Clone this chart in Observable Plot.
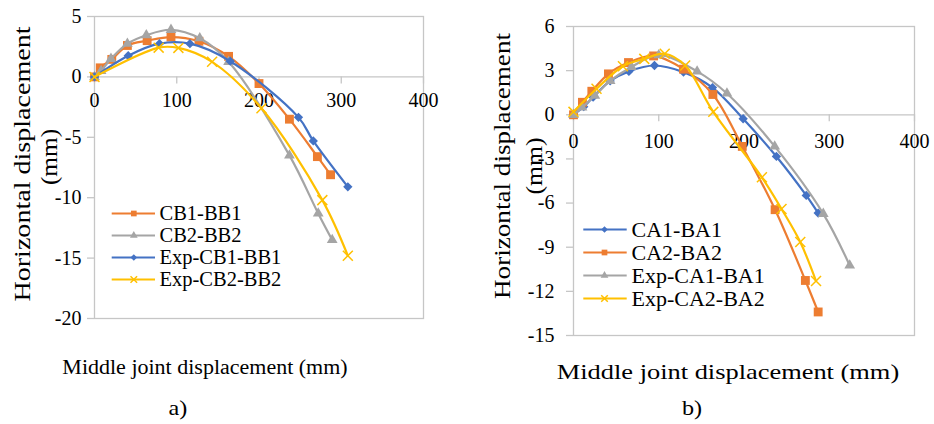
<!DOCTYPE html>
<html><head><meta charset="utf-8">
<script src="https://cdn.jsdelivr.net/npm/d3@7"></script>
<script src="https://cdn.jsdelivr.net/npm/@observablehq/plot@0.6"></script>
<style>
html,body{margin:0;padding:0;background:#fff;}
#root{position:relative;width:934px;height:424px;overflow:hidden;font-family:"Liberation Serif","Times New Roman",serif;color:#000;background:#fff;}
#root svg{position:absolute;overflow:visible;}
.lbl{position:absolute;white-space:nowrap;line-height:1;font-family:"Liberation Serif","Times New Roman",serif;}
</style></head><body><div id="root"></div>
<script>
// ---------- Chart a) ----------
const aXTicks = [0, 100, 200, 300, 400];
const aYTicks = [5, 0, -5, -10, -15, -20];
const aNames = ["CB1-BB1", "CB2-BB2", "Exp-CB1-BB1", "Exp-CB2-BB2"];
const a_CB1_x = [0, 7, 21, 40, 64, 93, 127, 163, 200, 237, 271, 287];
const a_CB1_y = [0, 0.75, 1.45, 2.6, 3.0, 3.3, 2.95, 1.7, -0.55, -3.5, -6.6, -8.1];
const a_CB2_x = [0, 8, 20, 40, 63, 93, 128, 163, 237, 272, 289];
const a_CB2_y = [0, 0.5, 1.5, 2.75, 3.45, 3.9, 3.2, 1.25, -6.5, -11.3, -13.5];
const a_ExpCB1_x = [0, 41, 79, 116, 165, 248, 266, 308];
const a_ExpCB1_y = [0, 1.75, 2.75, 2.75, 1.3, -3.35, -5.3, -9.1];
const a_ExpCB2_x = [0, 78, 102, 143, 203, 277, 308];
const a_ExpCB2_y = [0, 2.42, 2.4, 1.25, -2.6, -10.2, -14.8];

// ---------- Chart b) ----------
const bXTicks = [0, 100, 200, 300, 400];
const bYTicks = [6, 3, 0, -3, -6, -9, -12, -15];
const bNames = ["CA1-BA1", "CA2-BA2", "Exp-CA1-BA1", "Exp-CA2-BA2"];
const b_CA1_x = [0, 12, 23, 43, 65, 95, 129, 163, 199, 238, 273, 287];
const b_CA1_y = [0, 0.55, 1.2, 2.3, 2.95, 3.35, 2.9, 1.85, -0.27, -2.83, -5.48, -6.68];
const b_CA2_x = [0, 10.5, 21.5, 41, 64.5, 94, 129, 163.5, 198, 236.5, 272, 287];
const b_CA2_y = [0, 0.85, 1.6, 2.78, 3.55, 4.0, 3.1, 1.38, -2.15, -6.45, -11.26, -13.4];
const b_ExpCA1_x = [0, 10, 25, 43, 68, 100, 145, 180, 236, 293, 324];
const b_ExpCA1_y = [0, 0.5, 1.3, 2.3, 3.25, 4.05, 2.95, 1.45, -2.15, -6.73, -10.24];
const b_ExpCA2_x = [0, 27, 58, 83, 107, 131, 164, 221, 244, 266, 284.5];
const b_ExpCA2_y = [0.2, 1.77, 3.3, 3.8, 4.15, 3.35, 0.2, -4.25, -6.4, -8.65, -11.3];

const BLUE = "#4472C4", ORANGE = "#ED7D31", GRAY = "#A5A5A5", YELLOW = "#FFC000";
const AXIS = "#c6c6c6";
const FONT = "'Liberation Serif', 'Times New Roman', serif";

const rows = (xs, ys) => xs.map((x, i) => ({x, y: ys[i]}));

const aSeries = [
  {name: aNames[0], data: rows(a_CB1_x, a_CB1_y), color: ORANGE, symbol: "square", r: 5},
  {name: aNames[1], data: rows(a_CB2_x, a_CB2_y), color: GRAY, symbol: "triangle", r: 4},
  {name: aNames[2], data: rows(a_ExpCB1_x, a_ExpCB1_y), color: BLUE, symbol: "diamond2", r: 4.2},
  {name: aNames[3], data: rows(a_ExpCB2_x, a_ExpCB2_y), color: YELLOW, symbol: "times", r: 4.6}
];
const bSeries = [
  {name: bNames[0], data: rows(b_CA1_x, b_CA1_y), color: BLUE, symbol: "diamond2", r: 4.2},
  {name: bNames[1], data: rows(b_CA2_x, b_CA2_y), color: ORANGE, symbol: "square", r: 5},
  {name: bNames[2], data: rows(b_ExpCA1_x, b_ExpCA1_y), color: GRAY, symbol: "triangle", r: 4},
  {name: bNames[3], data: rows(b_ExpCA2_x, b_ExpCA2_y), color: YELLOW, symbol: "times", r: 4.6}
];

function seriesMarks(series) {
  const m = [];
  for (const s of series) {
    m.push(Plot.line(s.data, {x: "x", y: "y", stroke: s.color, strokeWidth: 2.2, curve: "catmull-rom"}));
    if (s.symbol === "times") {
      m.push(Plot.dot(s.data, {x: "x", y: "y", symbol: s.symbol, r: s.r, stroke: s.color, strokeWidth: 1.5, fill: "none"}));
    } else {
      m.push(Plot.dot(s.data, {x: "x", y: "y", symbol: s.symbol, r: s.r, fill: s.color, stroke: "none"}));
    }
  }
  return m;
}

function chart(o) {
  return Plot.plot({
    width: o.width, height: o.height,
    marginLeft: o.ml, marginRight: o.mr, marginTop: o.mt, marginBottom: o.mb,
    x: {domain: o.xdom, axis: null},
    y: {domain: o.ydom, axis: null},
    style: {background: "transparent", fontFamily: FONT, color: "#000", overflow: "visible"},
    marks: [
      Plot.frame({stroke: AXIS, strokeWidth: 1.3}),
      Plot.ruleY([0], {stroke: AXIS, strokeWidth: 1.3}),
      Plot.ruleX(o.xticks, {x: d => d, y1: 0, y2: 0, insetBottom: -7, stroke: AXIS, strokeWidth: 1.3}),
      Plot.ruleY(o.yticks, {y: d => d, x1: o.xdom[0], x2: o.xdom[0], insetLeft: -7, stroke: AXIS, strokeWidth: 1.3}),
      Plot.text(o.xticks, {x: d => d, y: 0, dy: o.xdy, text: d => String(d), fontSize: o.fs, fontFamily: FONT, fill: "#000", ariaLabel: "xlabels"}),
      Plot.text(o.yticks, {x: o.xdom[0], y: d => d, dx: o.ydx, text: d => String(d), textAnchor: "end", fontSize: o.fs, fontFamily: FONT, fill: "#000", ariaLabel: "ylabels"}),
      ...seriesMarks(o.series)
    ]
  });
}

function legend(o) {
  const data = o.series.map(s => ({name: s.name, color: s.color, symbol: s.symbol, r: s.r}));
  return Plot.plot({
    width: o.width, height: o.height, margin: 0,
    x: {domain: [0, o.width], range: [0, o.width], axis: null},
    y: {type: "point", domain: o.series.map(s => s.name), range: o.yrange, axis: null},
    style: {background: "transparent", fontFamily: FONT, color: "#000", overflow: "visible"},
    marks: [
      Plot.ruleY(data, {y: "name", x1: o.lx1, x2: o.lx2, stroke: "color", strokeWidth: 2.2}),
      Plot.dot(data.filter(d => d.symbol !== "times"), {y: "name", x: o.mx, symbol: "symbol", r: "r", fill: "color", stroke: "none"}),
      Plot.dot(data.filter(d => d.symbol === "times"), {y: "name", x: o.mx, symbol: "symbol", r: "r", stroke: "color", strokeWidth: 1.5, fill: "none"}),
      Plot.text(data, {y: "name", x: o.tx, text: "name", textAnchor: "start", fontSize: o.fs, fontFamily: FONT, fill: "#000", ariaLabel: "legendtext"})
    ]
  });
}

const root = document.getElementById("root");
function place(el, left, top) { el.style.left = left + "px"; el.style.top = top + "px"; root.append(el); return el; }
function stretch(svg, label, s) {
  svg.querySelectorAll(`g[aria-label="${label}"] text`).forEach(t => {
    const w = t.getComputedTextLength();
    if (w > 0) { t.setAttribute("textLength", w * s); t.setAttribute("lengthAdjust", "spacingAndGlyphs"); }
  });
}
function label(text, cx, cy, size, sx, rot) {
  const d = document.createElement("div");
  d.className = "lbl"; d.textContent = text;
  d.style.left = cx + "px"; d.style.top = cy + "px"; d.style.fontSize = size + "px";
  d.style.transform = `translate(-50%,-50%)${rot ? " rotate(-90deg)" : ""} scaleX(${sx})`;
  root.append(d);
}

// chart a
const A = place(chart({width: 440, height: 330, ml: 94, mr: 17, mt: 16, mb: 12,
  xdom: [0, 400], ydom: [-20, 5], xticks: aXTicks, yticks: aYTicks, xdy: 24, ydx: -13, fs: 20, series: aSeries}), 0, 0);
stretch(A, "xlabels", 1.1); stretch(A, "ylabels", 1.25);
// chart b
const B = place(chart({width: 464, height: 350, ml: 103, mr: 20, mt: 26, mb: 15,
  xdom: [0, 400], ydom: [-15, 6], xticks: bXTicks, yticks: bYTicks, xdy: 27, ydx: -19, fs: 20, series: bSeries}), 470, 0);
stretch(B, "xlabels", 1.2); stretch(B, "ylabels", 1.08);

// legends
const LA = place(legend({width: 260, height: 125, yrange: [15.7, 106.7], lx1: 6.7, lx2: 50, mx: 28.3, tx: 54, fs: 20.5, series: aSeries}), 105, 185);
stretch(LA, "legendtext", 1.06);
const LB = place(legend({width: 300, height: 125, yrange: [16, 110], lx1: 8.3, lx2: 51.7, mx: 29, tx: 56, fs: 22, series: bSeries}), 575, 200);

// axis titles and captions
label("Horizontal displacement", 22, 164, 23, 1.22, true);
label("(mm)", 49, 157, 23, 1.1, true);
label("Middle joint displacement (mm)", 205, 367, 20, 1.1, false);
label("a)", 178, 408, 22, 1.1, false);

label("Horizontal displacement", 502, 166, 23, 1.18, true);
label("(mm)", 534, 166, 23, 1.12, true);
label("Middle joint displacement (mm)", 728, 372, 22, 1.2, false);
label("b)", 692, 408, 22, 1.1, false);
</script></body></html>
